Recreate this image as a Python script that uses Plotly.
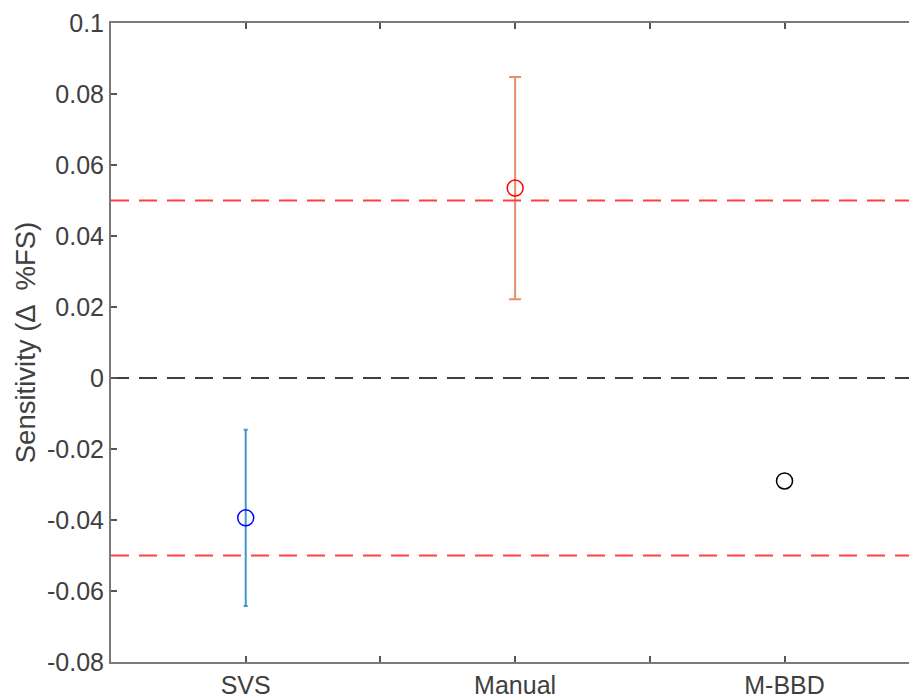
import plotly.graph_objects as go

categories = ["SVS", "Manual", "M-BBD"]
x_pos = [1, 2, 3]
means = [-0.0394, 0.0535, -0.0290]
errors = [0.0248, 0.0313, None]
marker_colors = ["#0000FF", "#FF0000", "#000000"]
bar_colors = ["rgba(0,114,189,0.75)", "rgba(217,83,25,0.65)", None]
cap_widths = [2, 6, 0]
ref_lines = [0.05, -0.05]
zero_line = 0.0
y_ticks = [-0.08, -0.06, -0.04, -0.02, 0, 0.02, 0.04, 0.06, 0.08, 0.1]
y_ticktext = ["-0.08", "-0.06", "-0.04", "-0.02", "0", "0.02", "0.04", "0.06", "0.08", "0.1"]
x_ticks = [1, 1.5, 2, 2.5, 3]
x_ticktext = ["SVS", "", "Manual", "", "M-BBD"]

fig = go.Figure()
x_range = [0.5, 3.462]

for y in ref_lines:
    fig.add_trace(go.Scatter(x=x_range, y=[y, y], mode="lines",
                             line=dict(color="rgba(255,0,0,0.75)", width=2, dash="18px,10px"),
                             showlegend=False, hoverinfo="skip"))
fig.add_trace(go.Scatter(x=x_range, y=[zero_line, zero_line], mode="lines",
                         line=dict(color="#000000", width=1.5, dash="18px,10px"),
                         showlegend=False, hoverinfo="skip"))

for i in range(3):
    if errors[i] is not None:
        fig.add_trace(go.Scatter(
            x=[x_pos[i]], y=[means[i]], mode="markers",
            marker=dict(size=0.1, color="rgba(0,0,0,0)"),
            error_y=dict(type="data", array=[errors[i]], visible=True,
                         color=bar_colors[i], thickness=2, width=cap_widths[i]),
            showlegend=False, hoverinfo="skip"))
    fig.add_trace(go.Scatter(
        x=[x_pos[i]], y=[means[i]], mode="markers",
        marker=dict(symbol="circle-open", size=16, color=marker_colors[i],
                    line=dict(width=1.5, color=marker_colors[i])),
        showlegend=False, name=categories[i]))

fig.update_layout(
    width=909, height=698,
    margin=dict(l=111, r=0, t=23, b=36, autoexpand=False),
    paper_bgcolor="white", plot_bgcolor="white",
    font=dict(family="Liberation Sans, Arial, sans-serif", size=25, color="#404040"),
    xaxis=dict(range=x_range, tickvals=x_ticks, ticktext=x_ticktext,
               showline=True, linecolor="#7a7a7a", linewidth=2, mirror="ticks",
               ticks="inside", ticklen=6, tickcolor="#555555", tickwidth=1.5,
               showgrid=False, zeroline=False, automargin=False,
               tickfont=dict(size=25, color="#404040")),
    yaxis=dict(range=[-0.08, 0.1], tickvals=y_ticks, ticktext=y_ticktext,
               showline=True, linecolor="#7a7a7a", linewidth=2, mirror=False,
               ticks="inside", ticklen=6, tickcolor="#555555", tickwidth=1.5,
               showgrid=False, zeroline=False, automargin=False,
               tickfont=dict(size=25, color="#404040"),
               title=dict(text="Sensitivity (Δ\u2002%FS)", standoff=3,
                          font=dict(size=27.5, color="#404040"))),
)

fig.write_html("out.html",
               config={"displayModeBar": False},
               post_script="document.body.style.margin='0';document.body.style.overflow='hidden';")
